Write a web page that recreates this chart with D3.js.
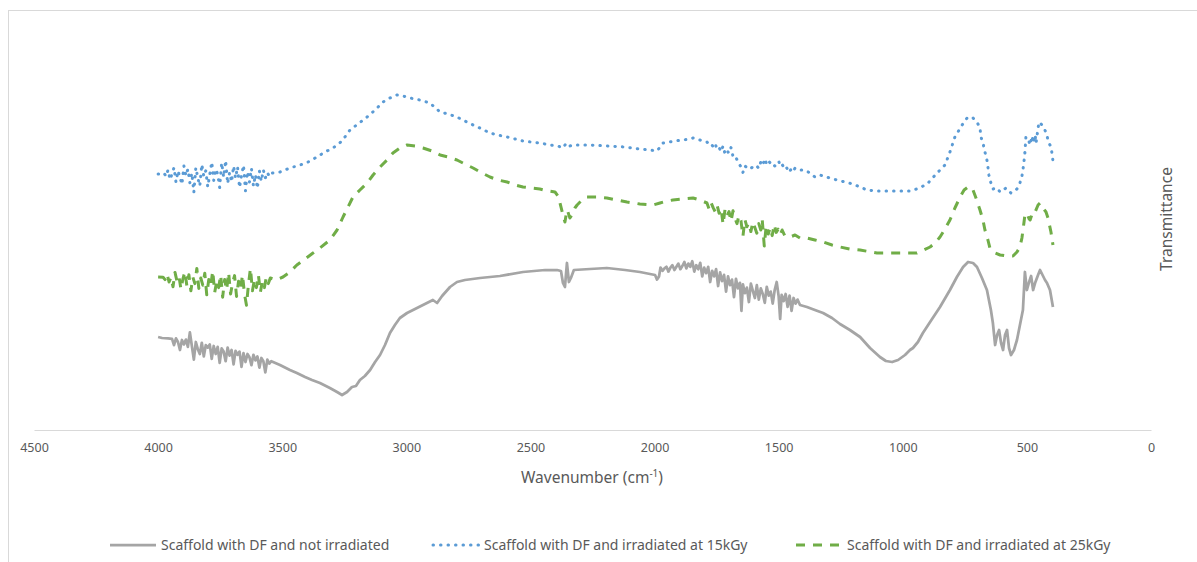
<!DOCTYPE html>
<html>
<head>
<meta charset="utf-8">
<script src="https://cdnjs.cloudflare.com/ajax/libs/d3/7.8.5/d3.min.js"></script>
<style>
  html, body { margin: 0; padding: 0; background: #fff; }
  svg { display: block; }
  text { font-family: "Noto Sans", "Open Sans", sans-serif; fill: #595959; }
</style>
</head>
<body>
<svg id="chart" width="1197" height="562"></svg>
<script>
// FTIR spectra: [wavenumber (cm-1), transmittance (a.u.)]
const notIrradiated = [
  [4000,23.25],[3984,23],[3960,22.9],[3944,22.8],[3936,21.2],[3928,22.9],[3920,22.0],[3912,20.0],
  [3904,22.5],[3896,21.4],[3888,22.6],[3880,20.8],[3872,24.4],[3864,21.0],[3856,17.6],[3848,22.0],
  [3840,20.2],[3832,19.0],[3824,21.8],[3816,18.4],[3808,21.2],[3800,20.6],[3792,21.4],[3784,17.8],
  [3776,21.0],[3768,19.0],[3760,20.8],[3752,16.8],[3744,20.4],[3736,19.6],[3728,17.2],[3720,20.6],
  [3712,18.6],[3704,20.0],[3696,16.4],[3688,19.8],[3680,18.8],[3672,19.6],[3664,15.8],[3656,19.2],
  [3648,17.0],[3640,19.0],[3632,18.2],[3624,16.2],[3616,18.8],[3608,17.4],[3600,18.4],[3592,15.6],
  [3584,18.0],[3576,17.2],[3568,14.4],[3560,17.6],[3552,16.6],[3544,17.2],[3509,16.25],[3469,15],
  [3441,14.25],[3408,13.25],[3380,12.5],[3348,11.75],[3308,10.5],[3279,9.5],[3259,8.75],[3239,9.5],
  [3219,10.75],[3203,11],[3187,12.5],[3167,13.5],[3146,15],[3126,17],[3106,18.75],[3086,21.25],
  [3066,24.25],[3046,26.25],[3026,28],[2997,29.25],[2965,30.25],[2925,31.5],[2893,32.5],[2876,31.75],
  [2856,33.5],[2824,35.75],[2796,37],[2764,37.5],[2703,38],[2623,38.5],[2530,39.5],[2441,40],
  [2393,40],[2377,39.75],[2369,36.75],[2361,35.75],[2353,41.75],[2345,37],[2337,38],[2325,40],
  [2260,40.25],[2192,40.5],[2119,40],[2059,39.5],[1998,38.75],[1990,37.6],[1982,38.4],[1976,40.6],
  [1968,39.8],[1960,40.4],[1952,40.8],[1944,39.6],[1936,40.6],[1928,41.2],[1920,40.0],[1912,40.8],
  [1904,41.6],[1896,40.2],[1888,41.0],[1880,42.0],[1872,40.4],[1864,41.6],[1856,40.8],[1848,42.2],
  [1840,39.6],[1832,41.2],[1824,40.2],[1816,41.8],[1808,38.4],[1800,40.6],[1792,39.2],[1784,40.8],
  [1776,37.0],[1768,39.8],[1760,38.4],[1752,40.2],[1744,36.0],[1736,39.4],[1728,37.2],[1720,38.8],
  [1712,34.6],[1704,38.4],[1696,36.2],[1688,37.6],[1680,33.2],[1672,37.8],[1664,35.4],[1656,36.8],
  [1650,29.8],[1644,36.4],[1636,34.2],[1628,35.6],[1620,32.0],[1612,36.6],[1604,34.8],[1596,33.0],
  [1588,36.2],[1580,32.6],[1572,35.4],[1564,34.0],[1556,31.8],[1548,35.8],[1540,33.6],[1532,34.6],
  [1524,31.6],[1516,35.0],[1508,37.0],[1500,33.4],[1494,27.8],[1488,33.8],[1480,32.2],[1472,34.0],
  [1464,30.8],[1456,33.6],[1448,29.8],[1440,33.0],[1432,31.6],[1424,32.6],[1414,31.25],[1386,30.75],
  [1354,30],[1321,29.25],[1285,28],[1253,26.5],[1213,25],[1172,23.25],[1132,20.5],[1092,18.25],
  [1068,17.25],[1043,17],[1019,17.5],[991,18.75],[971,20],[959,20.5],[939,22],[919,24.25],
  [890,27],[850,30.75],[810,35],[782,38.25],[757,40.75],[737,42],[717,41.75],[701,40.75],
  [681,38],[661,35],[645,30],[637,26.75],[628,21.25],[620,23.75],[612,25],[604,21.75],
  [596,20],[588,23.75],[580,25],[572,20.5],[564,18.75],[552,20],[540,22.5],[528,26.25],
  [516,30],[508,39.5],[500,35],[491,37],[483,38.5],[475,35],[467,36.75],[455,38.75],
  [447,40],[435,38.5],[427,37.5],[419,36.75],[407,35],[395,30.75]
];

const irradiated15 = [
  [4000,64],[3984,64],[3976,64.2],[3968,63.4],[3960,65.0],[3952,62.6],[3944,64.0],[3936,65.6],
  [3928,62.0],[3920,64.8],[3912,63.2],[3904,61.4],[3896,66.0],[3888,63.6],[3880,65.2],[3872,61.8],
  [3864,64.2],[3856,59.4],[3848,65.6],[3840,63.0],[3832,61.0],[3824,66.4],[3816,63.4],[3808,64.8],
  [3800,60.8],[3792,63.8],[3784,67.0],[3776,62.4],[3768,65.2],[3760,64.0],[3752,60.6],[3744,66.8],
  [3736,63.2],[3728,67.4],[3720,61.6],[3712,64.4],[3704,62.0],[3696,66.0],[3688,63.0],[3680,65.8],
  [3672,60.6],[3664,63.6],[3656,66.2],[3648,59.8],[3640,64.6],[3632,62.0],[3624,65.4],[3616,61.0],
  [3608,63.8],[3600,60.4],[3592,64.8],[3584,62.2],[3576,65.0],[3568,63.0],[3560,64.4],[3552,63.4],
  [3544,64.2],[3509,64.5],[3469,65.5],[3428,66.25],[3396,67],[3360,68.25],[3328,69.5],[3295,70.5],
  [3259,72.25],[3227,75],[3195,76.5],[3158,78.25],[3126,80],[3094,82],[3066,83],[3038,83.75],
  [3013,83.5],[2985,83],[2945,82.5],[2905,81.75],[2864,79.5],[2832,79],[2796,78.25],[2764,77.25],
  [2731,76.25],[2695,75.25],[2663,74.25],[2631,73.75],[2594,73.25],[2562,72.75],[2530,72.25],[2498,72],
  [2462,71.75],[2421,71.25],[2389,71],[2369,70.5],[2361,71.25],[2353,71.75],[2341,71],[2329,71.25],
  [2260,71.25],[2192,71],[2119,70.75],[2059,70.25],[2018,70],[1990,69.75],[1978,70.75],[1966,71.75],
  [1918,72.25],[1857,72.75],[1845,73],[1817,72.5],[1789,72],[1780,71.4],[1772,71.6],[1764,70.8],
  [1756,71.6],[1748,70.2],[1740,70.6],[1732,69.6],[1724,71.0],[1716,69.0],[1708,69.8],[1700,69.2],
  [1692,70.6],[1684,68.4],[1676,68.6],[1668,67.6],[1660,66.6],[1652,65.8],[1644,64.4],[1636,66.0],
  [1628,65.6],[1620,65.8],[1612,65.4],[1604,65.8],[1596,65.6],[1588,66.0],[1580,65.4],[1572,67.0],
  [1564,66.2],[1556,67.8],[1548,66.4],[1540,67.2],[1532,66.6],[1524,66.8],[1516,66.0],[1508,66.4],
  [1500,67.2],[1492,65.8],[1484,66.2],[1476,65.2],[1468,65.6],[1458,64.4],[1450,65.2],[1442,64.6],
  [1434,65.5],[1414,65],[1394,65],[1374,64.25],[1354,63.25],[1334,63.75],[1281,62.75],[1201,61.5],
  [1144,60],[1104,59.75],[1051,59.75],[971,59.75],[931,60.5],[898,61.75],[862,64.25],[830,66.25],
  [810,69.5],[790,73.25],[761,76.25],[741,78],[721,78.25],[701,77],[689,75.5],[685,73.25],
  [677,71.75],[669,69.5],[661,67.5],[657,65.75],[653,63.75],[645,61.75],[637,60.25],[620,60.5],
  [608,59.5],[584,60.5],[564,59.25],[540,60.25],[528,61.75],[520,63.5],[516,65],[512,67],
  [508,69.25],[506,71.25],[504,73.25],[496,73],[487,71.25],[479,73.5],[475,71.75],[467,73.75],
  [463,71.75],[455,75.5],[451,77],[439,76.25],[431,75.5],[419,73.75],[415,72.25],[403,70.75],
  [399,69.25],[395,67.25]
];

const irradiated25 = [
  [4000,38.25],[3980,38.2],[3972,37.6],[3964,39.0],[3956,37.0],[3948,38.2],[3940,35.8],[3932,39.4],
  [3924,37.2],[3916,38.4],[3908,35.2],[3900,37.8],[3892,39.6],[3884,36.0],[3876,38.8],[3868,34.8],
  [3860,38.2],[3852,36.6],[3844,40.4],[3836,35.4],[3828,38.0],[3820,36.2],[3812,39.2],[3804,33.8],
  [3796,37.6],[3788,36.0],[3780,39.8],[3772,34.4],[3764,37.2],[3756,35.6],[3748,38.8],[3740,33.2],
  [3732,37.6],[3724,35.0],[3716,39.4],[3708,34.0],[3700,36.8],[3692,38.6],[3684,33.4],[3676,37.2],
  [3668,35.2],[3660,38.8],[3652,34.0],[3644,31.2],[3636,36.4],[3628,40.4],[3620,34.8],[3612,37.6],
  [3604,35.6],[3596,38.8],[3588,34.4],[3580,37.2],[3572,35.6],[3564,38.2],[3556,36.6],[3548,38.0],
  [3525,37.5],[3497,38.25],[3469,39.5],[3441,41.25],[3408,42.75],[3376,44.25],[3348,45.5],[3308,47.5],
  [3279,50],[3255,53.25],[3235,55.75],[3215,58.25],[3187,60],[3158,61.75],[3134,63.75],[3106,65.75],
  [3078,67.5],[3054,69.25],[3026,70.5],[2997,71.25],[2965,71],[2933,70.5],[2897,69.75],[2864,68.75],
  [2832,68.25],[2796,67.5],[2764,66.5],[2731,65.5],[2695,64.25],[2663,63.25],[2631,62.5],[2594,62],
  [2562,61.25],[2530,60.75],[2498,60.5],[2462,60.25],[2429,59.75],[2401,59.5],[2389,58.5],[2381,56.75],
  [2369,53.75],[2361,52],[2353,55],[2349,54.5],[2341,53],[2333,53.75],[2321,55.5],[2312,56.25],
  [2292,57.5],[2272,58.25],[2232,58.25],[2192,58],[2151,57.5],[2111,57],[2059,56.5],[2006,56.25],
  [1978,56.75],[1950,57.25],[1926,57.5],[1885,57.75],[1845,58],[1817,57.5],[1789,56.75],[1780,55.2],
  [1772,56.8],[1764,55.6],[1756,54.6],[1748,56.2],[1740,54.2],[1732,55.4],[1724,51.4],[1716,55.2],
  [1708,53.6],[1700,54.6],[1692,52.2],[1684,54.8],[1676,53.0],[1668,51.6],[1660,53.6],[1652,52.4],
  [1644,48.4],[1636,52.6],[1628,50.8],[1620,51.8],[1612,49.6],[1604,52.0],[1596,50.6],[1588,49.2],
  [1580,51.6],[1572,50.0],[1566,52.4],[1558,46.0],[1550,51.2],[1542,49.0],[1534,50.6],[1526,48.6],
  [1518,51.4],[1510,49.4],[1502,50.2],[1494,48.8],[1486,50.0],[1475,48.5],[1454,48.25],[1434,48.75],
  [1414,48],[1386,48],[1354,47.5],[1321,47],[1285,46.25],[1253,45.75],[1213,45.25],[1172,45],
  [1104,44.25],[1051,44.25],[991,44.25],[943,44.25],[915,45],[890,45.75],[870,46.75],[850,48.25],
  [830,50.25],[810,52.5],[790,55.5],[769,58.25],[753,60],[737,60.75],[725,60.75],[717,60],
  [705,58],[689,55],[677,52.5],[669,50],[657,47.5],[649,45.5],[628,44.25],[608,43.75],
  [580,43.5],[556,43.5],[540,44.5],[528,45.75],[520,48],[512,51.75],[508,53.75],[500,54.25],
  [491,52.75],[487,52.5],[479,54],[475,53.75],[467,54.5],[455,56.25],[447,56.75],[435,55.5],
  [423,54.5],[415,53],[403,49.5],[395,46.25]
];

const xTicks = [4500, 4000, 3500, 3000, 2500, 2000, 1500, 1000, 500, 0];

const seriesNames = [
  "Scaffold with DF and not irradiated",
  "Scaffold with DF and irradiated at 15kGy",
  "Scaffold with DF and irradiated at 25kGy"
];

const svg = d3.select("#chart");

// chart frame
svg.append("rect")
  .attr("x", 8.5).attr("y", 10.5)
  .attr("width", 1200).attr("height", 560)
  .attr("fill", "none").attr("stroke", "#d9d9d9").attr("stroke-width", 1);

const x = d3.scaleLinear().domain([4500, 0]).range([34, 1151]);
const y = d3.scaleLinear().domain([0, 100]).range([430, 30]);

// x axis
const xAxis = d3.axisBottom(x).tickValues(xTicks).tickSize(0).tickPadding(13).tickFormat(d3.format("d"));
const gx = svg.append("g").attr("transform", "translate(0,430)").call(xAxis);
gx.select(".domain").attr("stroke", "#d9d9d9").attr("stroke-width", 1);
gx.selectAll("text").attr("fill", "#595959").style("font-size", "12.5px")
  .style("font-family", '"Noto Sans", sans-serif');

// axis titles
const xt = svg.append("text")
  .attr("x", 592).attr("y", 483)
  .attr("text-anchor", "middle")
  .style("font-size", "15.5px");
xt.append("tspan").text("Wavenumber (cm");
xt.append("tspan").text("-1").attr("dy", -6).style("font-size", "10px");
xt.append("tspan").text(")").attr("dy", 6);

svg.append("text")
  .attr("transform", "translate(1172,219) rotate(-90)")
  .attr("text-anchor", "middle")
  .style("font-size", "15.5px")
  .text("Transmittance");

const line = d3.line().x(d => x(d[0])).y(d => y(d[1]));

const styles = [
  { data: notIrradiated, color: "#a5a5a5", width: 2.75, dash: null, cap: "butt" },
  { data: irradiated15, color: "#5b9bd5", width: 3, dash: "0.5,7", cap: "round" },
  { data: irradiated25, color: "#70ad47", width: 3, dash: "9,8", cap: "butt" }
];

styles.forEach(s => {
  svg.append("path")
    .datum(s.data)
    .attr("d", line)
    .attr("fill", "none")
    .attr("stroke", s.color)
    .attr("stroke-width", s.width)
    .attr("stroke-linejoin", "round")
    .attr("stroke-linecap", s.cap)
    .attr("stroke-dasharray", s.dash);
});

// legend
const legendPos = [110, 433, 796];
const lg = svg.append("g").attr("transform", "translate(0,545)");
styles.forEach((s, i) => {
  const g = lg.append("g").attr("transform", `translate(${legendPos[i]},0)`);
  g.append("line")
    .attr("x1", 0).attr("x2", 46).attr("y1", 0).attr("y2", 0)
    .attr("stroke", s.color)
    .attr("stroke-width", s.width)
    .attr("stroke-linecap", s.cap)
    .attr("stroke-dasharray", s.dash);
  g.append("text")
    .attr("x", 51).attr("y", 0).attr("dy", "0.35em")
    .style("font-size", "14px")
    .text(seriesNames[i]);
});
</script>
</body>
</html>
